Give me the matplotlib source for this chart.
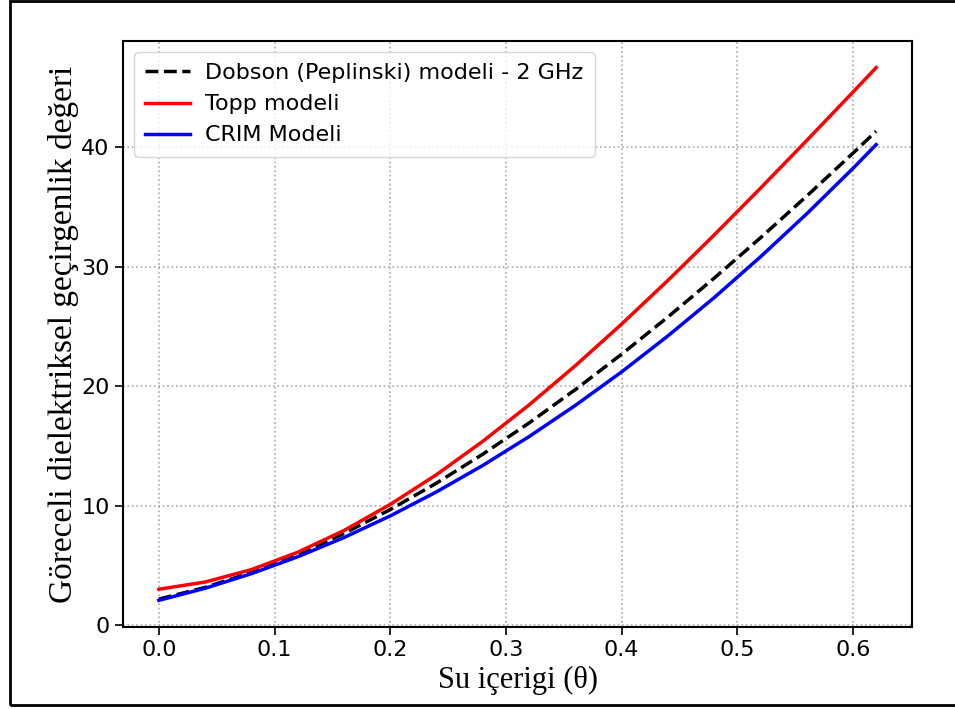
import numpy as np
import matplotlib
matplotlib.use('Agg')
import matplotlib.pyplot as plt
from matplotlib.patches import Rectangle

# Su içeriği (theta) noktaları
theta = [0.00, 0.04, 0.08, 0.12, 0.16, 0.20, 0.24, 0.28, 0.32,
         0.36, 0.40, 0.44, 0.48, 0.52, 0.56, 0.60, 0.62]

# Dobson (Peplinski) modeli - 2 GHz
dobson = [2.20, 3.18, 4.43, 5.94, 7.69, 9.69, 11.90, 14.32, 16.93,
          19.72, 22.68, 25.79, 29.04, 32.41, 35.90, 39.49, 41.32]

# Topp modeli
topp = [3.03, 3.63, 4.67, 6.12, 7.94, 10.12, 12.61, 15.40, 18.44,
        21.72, 25.20, 28.85, 32.65, 36.56, 40.55, 44.60, 46.64]

# CRIM modeli
crim = [2.10, 3.11, 4.33, 5.74, 7.35, 9.16, 11.17, 13.38, 15.79,
        18.40, 21.20, 24.21, 27.41, 30.82, 34.42, 38.22, 40.20]

xticks = [0.0, 0.1, 0.2, 0.3, 0.4, 0.5, 0.6]
yticks = [0, 10, 20, 30, 40]

fig = plt.figure(figsize=(9.55, 7.09), dpi=100)
ax = fig.add_axes([0.1288, 0.1157, 0.8262, 0.8265])

ax.plot(theta, dobson, 'k--', lw=2.5, label='Dobson (Peplinski) modeli - 2 GHz')
ax.plot(theta, topp, color='red', lw=2.5, label='Topp modeli')
ax.plot(theta, crim, color='blue', lw=2.5, label='CRIM Modeli')

ax.set_xticks(xticks)
ax.set_yticks(yticks)
ax.tick_params(labelsize=16, length=6, width=1.2)
for s in ax.spines.values():
    s.set_linewidth(1.5)
ax.grid(True, linestyle=':', color='#aaaaaa', lw=1.2)

ax.set_xlabel('Su içerigi (θ)', family='Liberation Serif', fontsize=22, labelpad=4)
ax.set_ylabel('Göreceli dielektriksel geçirgenlik değeri', family='Liberation Serif',
              fontsize=24, labelpad=2)

ax.legend(loc='upper left', fontsize=16, handlelength=2.0, handletextpad=0.7,
          borderpad=0.5, labelspacing=0.5)

# outer frame round the figure
fig.patches.append(Rectangle((0.0105, 0.0056), 1.2, 0.993, transform=fig.transFigure,
                             fill=False, edgecolor='black', lw=2))

fig.savefig('out.png', dpi=100)
